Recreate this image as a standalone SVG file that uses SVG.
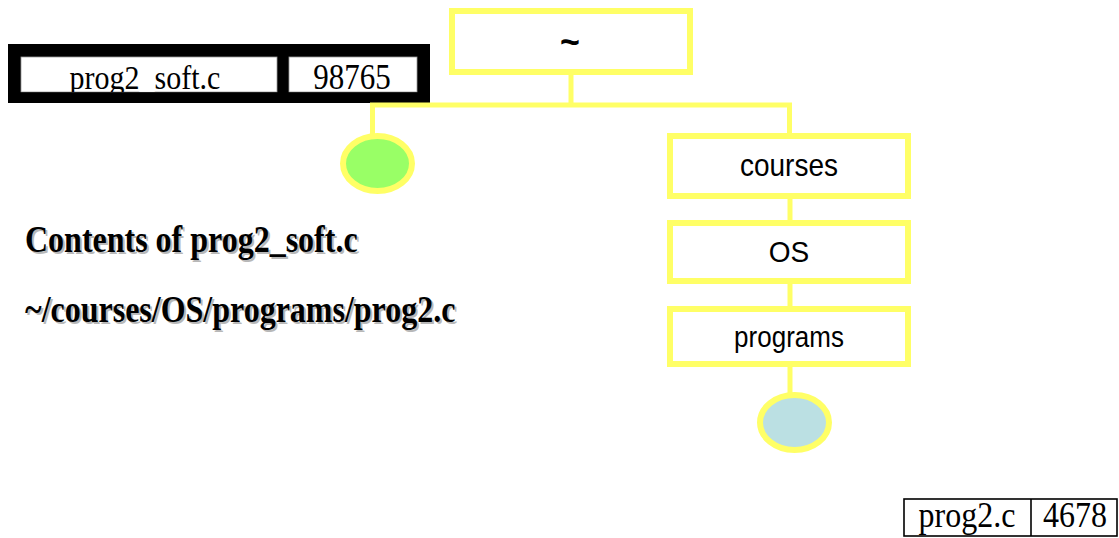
<svg xmlns="http://www.w3.org/2000/svg" width="1119" height="538" viewBox="0 0 1119 538">
<style>
.box{fill:#fff;stroke:#ffff66;stroke-width:6}
.con{fill:none;stroke:#ffff66;stroke-width:5}
.lbl{font-family:"Liberation Sans",Arial,sans-serif;fill:#000;text-anchor:middle}
.tm{font-family:"Liberation Serif","Times New Roman",serif;fill:#000;text-anchor:middle}
.bold{font-family:"Liberation Serif","Times New Roman",serif;font-weight:bold;font-size:32px}
.sh{fill:#b8b8b8}
</style>
<defs>
<clipPath id="cellclip"><rect x="21" y="57" width="256" height="35"/></clipPath>
</defs>
<rect width="1119" height="538" fill="#fff"/>
<g id="inode-soft">
<rect x="8" y="44" width="422" height="59" fill="#000"/>
<rect x="21" y="57" width="256" height="35" fill="#fff" stroke="#999" stroke-width="0.8"/>
<rect x="289" y="57" width="128" height="35" fill="#fff" stroke="#999" stroke-width="0.8"/>
<g clip-path="url(#cellclip)"><text class="tm" transform="translate(145,89) scale(1,1.14)" font-size="30">prog2<tspan fill="#fff">_</tspan>soft.c</text></g>
<text class="tm" transform="translate(352,89) scale(1,1.14)" font-size="31">98765</text>
<rect x="8" y="92.5" width="422" height="10.5" fill="#000"/>
</g>
<g id="connectors">
<line class="con" x1="571" y1="66" x2="571" y2="105"/>
<polyline class="con" points="372.5,136 372.5,105 789.5,105 789.5,136"/>
<line class="con" x1="790" y1="183" x2="790" y2="223"/>
<line class="con" x1="790" y1="270" x2="790" y2="309"/>
<line class="con" x1="790" y1="364" x2="790" y2="395"/>
</g>
<g id="root">
<rect class="box" x="452" y="11" width="238" height="61"/>
<text class="lbl" transform="translate(570,54) scale(1,1.1)" font-size="34" font-weight="bold">~</text>
</g>
<g id="soft-file">
<ellipse cx="377.5" cy="163.5" rx="34.5" ry="27.5" fill="#99ff66" stroke="#ffff66" stroke-width="6"/>
</g>
<g id="courses">
<rect class="box" x="670" y="136" width="238" height="60"/>
<text class="lbl" transform="translate(789,176) scale(1,1.12)" font-size="28">courses</text>
</g>
<g id="os">
<rect class="box" x="670" y="223" width="238" height="58"/>
<text class="lbl" transform="translate(789,262) scale(1,1.08)" font-size="28">OS</text>
</g>
<g id="programs">
<rect class="box" x="670" y="309" width="238" height="55"/>
<text class="lbl" transform="translate(789,347) scale(1,1.12)" font-size="26">programs</text>
</g>
<g id="prog2-file">
<ellipse cx="794.5" cy="422.5" rx="34.5" ry="27.5" fill="#bbe0e3" stroke="#ffff66" stroke-width="6"/>
</g>
<g id="contents-text">
<text class="bold sh" transform="translate(27,254) scale(1,1.18)">Contents of prog2_soft.c</text>
<text class="bold" transform="translate(25,252) scale(1,1.18)">Contents of prog2_soft.c</text>
<text class="bold sh" transform="translate(27,324) scale(1,1.18)">~/courses/OS/programs/prog2.c</text>
<text class="bold" transform="translate(25,322) scale(1,1.18)">~/courses/OS/programs/prog2.c</text>
</g>
<g id="inode-prog2">
<rect x="904" y="499" width="213" height="37" fill="#fff" stroke="#000" stroke-width="1.6"/>
<line x1="1031" y1="499" x2="1031" y2="536" stroke="#000" stroke-width="1.6"/>
<text class="tm" transform="translate(967,527) scale(1,1.1)" font-size="32">prog2.c</text>
<text class="tm" transform="translate(1075,527) scale(1,1.1)" font-size="32">4678</text>
</g>
</svg>
